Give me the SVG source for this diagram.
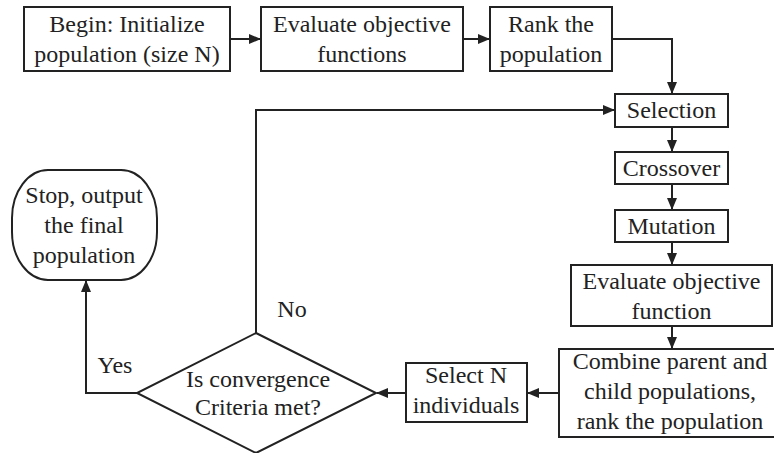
<svg xmlns="http://www.w3.org/2000/svg" width="774" height="453" viewBox="0 0 774 453">
<defs>
<marker id="ah" markerWidth="12" markerHeight="10" refX="11" refY="5" orient="auto" markerUnits="userSpaceOnUse">
<path d="M0,0 L12,5 L0,10 z" fill="#222"/>
</marker>
</defs>
<rect width="774" height="453" fill="#fff"/>
<g id="connectors" fill="none" stroke="#222" stroke-width="2">
<path d="M230,39 H260" marker-end="url(#ah)"/>
<path d="M463,39 H489" marker-end="url(#ah)"/>
<path d="M612,39 H672 V93" marker-end="url(#ah)"/>
<path d="M672,127 V151" marker-end="url(#ah)"/>
<path d="M672,184 V209" marker-end="url(#ah)"/>
<path d="M672,242 V264" marker-end="url(#ah)"/>
<path d="M672,326 V348" marker-end="url(#ah)"/>
<path d="M559,393 H528" marker-end="url(#ah)"/>
<path d="M406,393 H377" marker-end="url(#ah)"/>
<path d="M256,333 V110 H614" marker-end="url(#ah)"/>
<path d="M137,393 H86 V281" marker-end="url(#ah)"/>
</g>
<g id="labels" fill="#222" stroke="none" text-anchor="middle" font-size="24" font-family="'Liberation Serif'">
<text x="115" y="373" font-family="'Liberation Serif'">Yes</text>
<text x="292" y="317" font-family="'Liberation Serif'">No</text>
</g>
<g id="init">
<rect x="24" y="7" width="206" height="64" fill="#fff" stroke="#222" stroke-width="2"/>
<text x="127" y="32" font-size="24" fill="#222" text-anchor="middle" font-family="'Liberation Serif'">Begin: Initialize</text>
<text x="127" y="62" font-size="24" fill="#222" text-anchor="middle" font-family="'Liberation Serif'">population (size N)</text>
</g>
<g id="eval1">
<rect x="261" y="7" width="202" height="64" fill="#fff" stroke="#222" stroke-width="2"/>
<text x="362" y="32" font-size="24" fill="#222" text-anchor="middle" font-family="'Liberation Serif'">Evaluate objective</text>
<text x="362" y="62" font-size="24" fill="#222" text-anchor="middle" font-family="'Liberation Serif'">functions</text>
</g>
<g id="rank">
<rect x="490" y="7" width="122" height="64" fill="#fff" stroke="#222" stroke-width="2"/>
<text x="551" y="32" font-size="24" fill="#222" text-anchor="middle" font-family="'Liberation Serif'">Rank the</text>
<text x="551" y="62" font-size="24" fill="#222" text-anchor="middle" font-family="'Liberation Serif'">population</text>
</g>
<g id="selection">
<rect x="615" y="94" width="113" height="33" fill="#fff" stroke="#222" stroke-width="2"/>
<text x="671.5" y="118" font-size="24" fill="#222" text-anchor="middle" font-family="'Liberation Serif'">Selection</text>
</g>
<g id="crossover">
<rect x="615" y="152" width="113" height="32" fill="#fff" stroke="#222" stroke-width="2"/>
<text x="671.5" y="176" font-size="24" fill="#222" text-anchor="middle" font-family="'Liberation Serif'">Crossover</text>
</g>
<g id="mutation">
<rect x="615" y="210" width="113" height="32" fill="#fff" stroke="#222" stroke-width="2"/>
<text x="671.5" y="234" font-size="24" fill="#222" text-anchor="middle" font-family="'Liberation Serif'">Mutation</text>
</g>
<g id="eval2">
<rect x="571" y="265" width="201" height="61" fill="#fff" stroke="#222" stroke-width="2"/>
<text x="671.5" y="289" font-size="24" fill="#222" text-anchor="middle" font-family="'Liberation Serif'">Evaluate objective</text>
<text x="671.5" y="319" font-size="24" fill="#222" text-anchor="middle" font-family="'Liberation Serif'">function</text>
</g>
<g id="combine">
<rect x="559" y="349" width="218" height="88" fill="#fff" stroke="#222" stroke-width="2"/>
<text x="670" y="369" font-size="24" fill="#222" text-anchor="middle" font-family="'Liberation Serif'">Combine parent and</text>
<text x="670" y="399" font-size="24" fill="#222" text-anchor="middle" font-family="'Liberation Serif'">child populations,</text>
<text x="670" y="429" font-size="24" fill="#222" text-anchor="middle" font-family="'Liberation Serif'">rank the population</text>
</g>
<g id="selectN">
<rect x="406" y="363" width="121" height="59" fill="#fff" stroke="#222" stroke-width="2"/>
<text x="466" y="383" font-size="24" fill="#222" text-anchor="middle" font-family="'Liberation Serif'">Select N</text>
<text x="466" y="413" font-size="24" fill="#222" text-anchor="middle" font-family="'Liberation Serif'">individuals</text>
</g>
<g id="decision">
<path d="M256,333 L376,393 L256,453 L137,393 Z" fill="#fff" stroke="#222" stroke-width="2"/>
<text x="258" y="387" font-size="24" fill="#222" text-anchor="middle" font-family="'Liberation Serif'">Is convergence</text>
<text x="258" y="415" font-size="24" fill="#222" text-anchor="middle" font-family="'Liberation Serif'">Criteria met?</text>
</g>
<g id="stop">
<rect x="12" y="170" width="145" height="110" rx="36" ry="48" fill="#fff" stroke="#222" stroke-width="2"/>
<text x="84" y="203" font-size="24" fill="#222" text-anchor="middle" font-family="'Liberation Serif'">Stop, output</text>
<text x="84" y="233" font-size="24" fill="#222" text-anchor="middle" font-family="'Liberation Serif'">the final</text>
<text x="84" y="263" font-size="24" fill="#222" text-anchor="middle" font-family="'Liberation Serif'">population</text>
</g>
</svg>
